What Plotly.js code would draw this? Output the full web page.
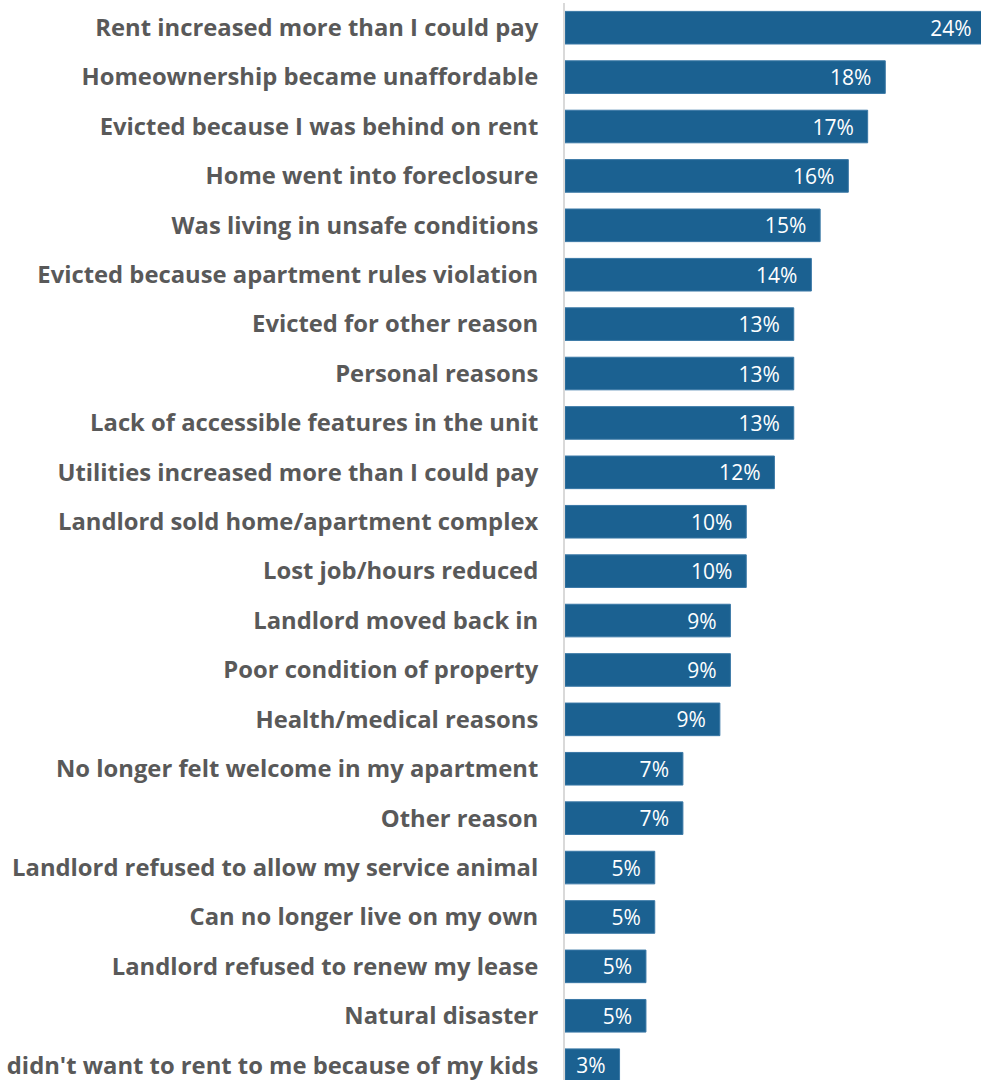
<!DOCTYPE html>
<html>
<head>
<meta charset="utf-8">
<script src="https://cdn.plot.ly/plotly-3.0.1.min.js"></script>
<style>html,body{margin:0;padding:0;background:#fff;}#chart{width:981px;height:1080px;}</style>
</head>
<body>
<div id="chart"></div>
<script>
const categories = [
  "Rent increased more than I could pay",
  "Homeownership became unaffordable",
  "Evicted because I was behind on rent",
  "Home went into foreclosure",
  "Was living in unsafe conditions",
  "Evicted because apartment rules violation",
  "Evicted for other reason",
  "Personal reasons",
  "Lack of accessible features in the unit",
  "Utilities increased more than I could pay",
  "Landlord sold home/apartment complex",
  "Lost job/hours reduced",
  "Landlord moved back in",
  "Poor condition of property",
  "Health/medical reasons",
  "No longer felt welcome in my apartment",
  "Other reason",
  "Landlord refused to allow my service animal",
  "Can no longer live on my own",
  "Landlord refused to renew my lease",
  "Natural disaster",
  "Landlord didn't want to rent to me because of my kids"
];
const values = [23.9, 18.2, 17.2, 16.1, 14.5, 14.0, 13.0, 13.0, 13.0, 11.9, 10.3, 10.3, 9.4, 9.4, 8.8, 6.7, 6.7, 5.1, 5.1, 4.6, 4.6, 3.1];
const valueLabels = ["24%", "18%", "17%", "16%", "15%", "14%", "13%", "13%", "13%", "12%", "10%", "10%", "9%", "9%", "9%", "7%", "7%", "5%", "5%", "5%", "5%", "3%"];

const padded = valueLabels.map(t => t + "\u00a0\u00a0");

const trace = {
  type: 'bar',
  orientation: 'h',
  x: values,
  y: categories,
  text: padded,
  texttemplate: '%{text}',
  textposition: 'inside',
  insidetextanchor: 'end',
  textangle: 0,
  constraintext: 'none',
  cliponaxis: true,
  insidetextfont: {family: 'Open Sans', size: 21, color: '#ffffff'},
  marker: {color: '#1b6191', line: {color: '#3a78a6', width: 1}},
  hoverinfo: 'skip'
};

const layout = {
  width: 981,
  height: 1080,
  margin: {l: 565, r: 0, t: 3, b: 0, pad: 0},
  paper_bgcolor: '#ffffff',
  plot_bgcolor: '#ffffff',
  bargap: 0.34,
  showlegend: false,
  xaxis: {
    range: [0, 23.64],
    visible: false,
    showgrid: false,
    zeroline: false,
    fixedrange: true
  },
  yaxis: {
    type: 'category',
    categoryorder: 'array',
    categoryarray: categories,
    range: [21.3, -0.5],
    showline: true,
    linecolor: '#d9d9d9',
    linewidth: 2,
    showgrid: false,
    zeroline: false,
    ticks: 'outside',
    ticklen: 20,
    tickcolor: 'rgba(0,0,0,0)',
    automargin: false,
    tickfont: {family: 'Open Sans', size: 23.8, color: '#595959', weight: 700},
    fixedrange: true
  }
};

Plotly.newPlot('chart', [trace], layout, {displayModeBar: false, staticPlot: true});
</script>
</body>
</html>
